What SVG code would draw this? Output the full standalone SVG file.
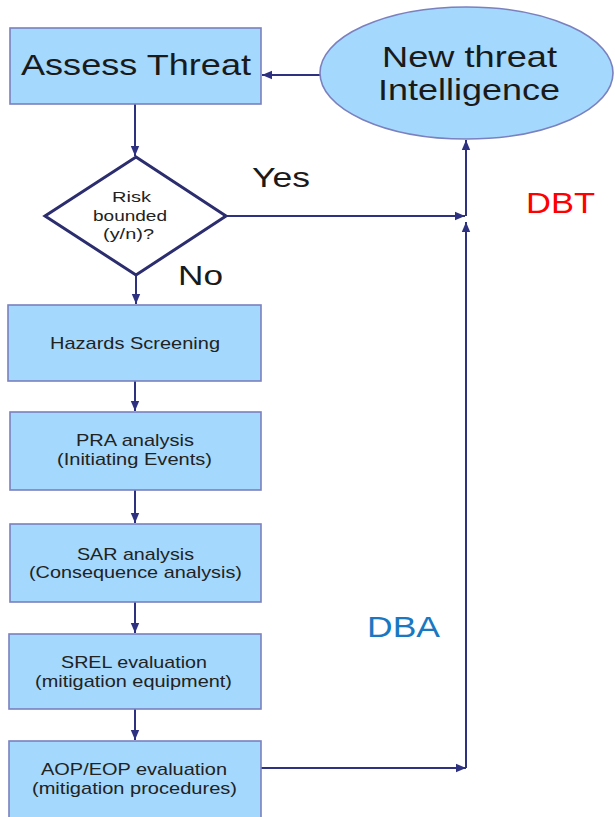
<svg xmlns="http://www.w3.org/2000/svg" width="615" height="817" viewBox="0 0 615 817">
  <defs>
    <marker id="arrow" viewBox="0 0 10 10" refX="10" refY="5" markerWidth="10" markerHeight="10" markerUnits="userSpaceOnUse" orient="auto">
      <path d="M0,0.8 L10,5 L0,9.2 Z" fill="#2e3180"/>
    </marker>
    <style>
      .box { fill: #a4d8fc; stroke: #7b80bf; stroke-width: 1.6; }
      .oval { fill: #a4d8fc; stroke: #7b80bf; stroke-width: 1.6; }
      .decision { fill: #ffffff; stroke: #2b2d6e; stroke-width: 3; stroke-linejoin: miter; }
      .conn { fill: none; stroke: #2e3180; stroke-width: 2; marker-end: url(#arrow); }
      text { font-family: "Liberation Sans", Arial, sans-serif; fill: #1a1a1a; }
      .big { font-size: 30px; }
      .lbl { font-size: 28px; }
      .small { font-size: 17px; fill: #222222; }
      .tiny { font-size: 14px; fill: #222222; }
    </style>
  </defs>

  <!-- connectors -->
  <g id="connectors">
    <path class="conn" d="M320,75 H262"/>
    <path class="conn" d="M135,104 V156"/>
    <path class="conn" d="M136,275 V304"/>
    <path class="conn" d="M135,381 V411"/>
    <path class="conn" d="M135,490 V523"/>
    <path class="conn" d="M135,602 V633"/>
    <path class="conn" d="M135,709 V740"/>
    <path class="conn" d="M226,216 H465"/>
    <path class="conn" d="M261,768 H466"/>
    <path class="conn" d="M466,768 V222"/>
    <path class="conn" d="M466,216 V140"/>
  </g>

  <!-- nodes -->
  <g id="assess-threat">
    <rect class="box" x="10" y="28" width="251" height="76"/>
    <text class="big" x="21" y="75" textLength="230" lengthAdjust="spacingAndGlyphs">Assess Threat</text>
  </g>

  <g id="new-threat-intelligence">
    <ellipse class="oval" cx="466.5" cy="73" rx="146.5" ry="66"/>
    <text class="big" x="382" y="67" textLength="175" lengthAdjust="spacingAndGlyphs">New threat</text>
    <text class="big" x="378" y="100" textLength="182" lengthAdjust="spacingAndGlyphs">Intelligence</text>
  </g>

  <g id="risk-bounded">
    <polygon class="decision" points="136,157 226,216 136,275 45,216"/>
    <text class="tiny" x="112" y="202" textLength="39" lengthAdjust="spacingAndGlyphs">Risk</text>
    <text class="tiny" x="93" y="221" textLength="74" lengthAdjust="spacingAndGlyphs">bounded</text>
    <text class="tiny" x="103" y="239" textLength="51" lengthAdjust="spacingAndGlyphs">(y/n)?</text>
  </g>

  <g id="hazards-screening">
    <rect class="box" x="8" y="305" width="253" height="76"/>
    <text class="small" x="50" y="349" textLength="170" lengthAdjust="spacingAndGlyphs">Hazards Screening</text>
  </g>

  <g id="pra-analysis">
    <rect class="box" x="10" y="412" width="251" height="78"/>
    <text class="small" x="76" y="446" textLength="118" lengthAdjust="spacingAndGlyphs">PRA analysis</text>
    <text class="small" x="57" y="465" textLength="155" lengthAdjust="spacingAndGlyphs">(Initiating Events)</text>
  </g>

  <g id="sar-analysis">
    <rect class="box" x="10" y="524" width="251" height="78"/>
    <text class="small" x="77" y="560" textLength="117" lengthAdjust="spacingAndGlyphs">SAR analysis</text>
    <text class="small" x="29" y="578" textLength="213" lengthAdjust="spacingAndGlyphs">(Consequence analysis)</text>
  </g>

  <g id="srel-evaluation">
    <rect class="box" x="9" y="634" width="252" height="75"/>
    <text class="small" x="61" y="668" textLength="146" lengthAdjust="spacingAndGlyphs">SREL evaluation</text>
    <text class="small" x="35" y="687" textLength="197" lengthAdjust="spacingAndGlyphs">(mitigation equipment)</text>
  </g>

  <g id="aop-eop-evaluation">
    <rect class="box" x="9" y="741" width="252" height="82"/>
    <text class="small" x="41" y="775" textLength="186" lengthAdjust="spacingAndGlyphs">AOP/EOP evaluation</text>
    <text class="small" x="32" y="794" textLength="205" lengthAdjust="spacingAndGlyphs">(mitigation procedures)</text>
  </g>

  <!-- branch and region labels -->
  <g id="labels">
    <text class="lbl" x="252" y="187" textLength="58" lengthAdjust="spacingAndGlyphs">Yes</text>
    <text class="lbl" x="178" y="285" textLength="45" lengthAdjust="spacingAndGlyphs">No</text>
    <text class="big" x="526" y="213" textLength="69" lengthAdjust="spacingAndGlyphs" style="fill:#ff0000">DBT</text>
    <text class="big" x="367" y="637" textLength="73" lengthAdjust="spacingAndGlyphs" style="fill:#1a78c2">DBA</text>
  </g>
</svg>
